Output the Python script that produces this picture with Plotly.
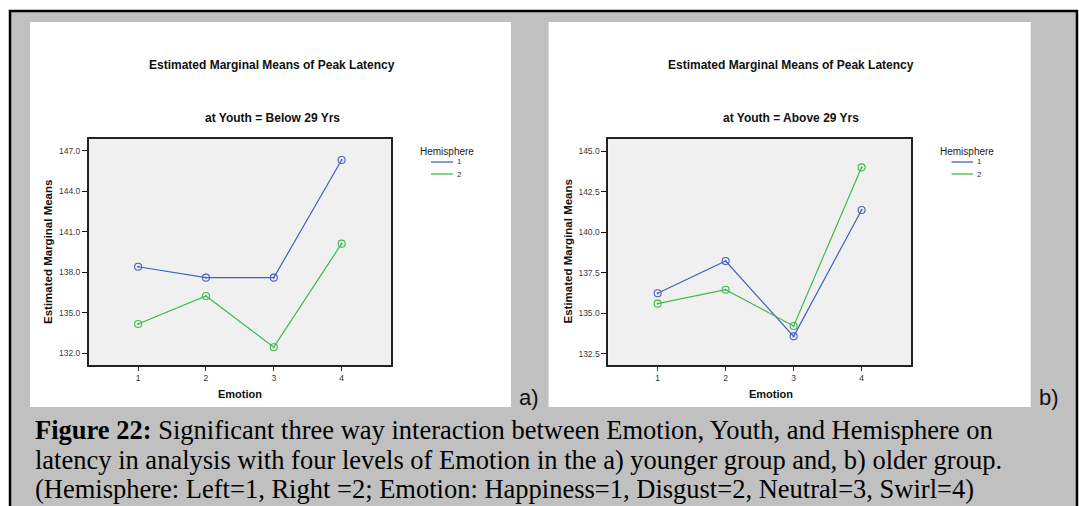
import plotly.graph_objects as go

W, H = 1079, 506

emotion = [1, 2, 3, 4]
young_h1 = [138.41, 137.60, 137.60, 146.31]
young_h2 = [134.17, 136.24, 132.45, 140.12]
old_h1 = [136.23, 138.22, 133.57, 141.37]
old_h2 = [135.59, 136.45, 134.21, 144.01]
young_yticks = [132.0, 135.0, 138.0, 141.0, 144.0, 147.0]
old_yticks = [132.5, 135.0, 137.5, 140.0, 142.5, 145.0]
hemis = ["1", "2"]
BLUE = "#4560c0"
GREEN = "#3dbb4c"


def px(x):
    return x / W


def py(y):
    return 1 - y / H


fig = go.Figure()

panels = [
    dict(xa="x", ya="y", h1=young_h1, h2=young_h2, yt=young_yticks,
         xd=(88.8, 390.8), yr=[131.13, 147.87], sub="at Youth = Below 29 Yrs",
         white=(30, 511), tc=272, ytx=48, emx=240, leg=(447, 431, 453, 455),
         lab="a)", labx=529),
    dict(xa="x2", ya="y2", h1=old_h1, h2=old_h2, yt=old_yticks,
         xd=(608.2, 910.9), yr=[131.80, 145.76], sub="at Youth = Above 29 Yrs",
         white=(548.6, 1030.7), tc=791, ytx=567.5, emx=771, leg=(967, 951.5, 973, 975),
         lab="b)", labx=1049),
]

shapes = [
    dict(type="rect", xref="paper", yref="paper", x0=px(10), x1=px(1077), y0=py(530), y1=py(11),
         fillcolor="#c0c0c0", line=dict(width=0), layer="below"),
]
annotations = []
layout_axes = {}

for i, p in enumerate(panels):
    shapes.append(dict(type="rect", xref="paper", yref="paper", x0=px(p["white"][0]), x1=px(p["white"][1]),
                       y0=py(407), y1=py(22), fillcolor="white", line=dict(width=0), layer="below"))
    shapes.append(dict(type="rect", xref="paper", yref="paper", x0=px(p["xd"][0]), x1=px(p["xd"][1]),
                       y0=py(365), y1=py(139), fillcolor="#f0f0f0", line=dict(width=0), layer="below"))
    for series, col, nm in [(p["h1"], BLUE, hemis[0]), (p["h2"], GREEN, hemis[1])]:
        fig.add_trace(go.Scatter(x=emotion, y=series, mode="lines+markers", name=nm,
                                 xaxis=p["xa"], yaxis=p["ya"], showlegend=False,
                                 line=dict(color=col, width=1.2),
                                 marker=dict(symbol="circle-open-dot", size=7, color=col,
                                             line=dict(width=1.1, color=col))))
    sfx = "" if i == 0 else "2"
    layout_axes["xaxis" + sfx] = dict(domain=[px(p["xd"][0]), px(p["xd"][1])], range=[0.273, 4.725],
                                      anchor="y" + sfx, tickvals=emotion, ticktext=[str(e) for e in emotion],
                                      ticks="outside", ticklen=4, tickcolor="#333", tickwidth=1,
                                      showline=True, linecolor="#222", linewidth=1.6, mirror=True,
                                      showgrid=False, zeroline=False,
                                      tickfont=dict(family="Liberation Sans, Arial", size=8.5, color="#333"))
    layout_axes["yaxis" + sfx] = dict(domain=[py(365), py(139)], range=p["yr"], anchor="x" + sfx,
                                      tickvals=p["yt"], ticktext=["%.1f" % v for v in p["yt"]],
                                      ticks="outside", ticklen=5, tickcolor="#111", tickwidth=1.3,
                                      showline=True, linecolor="#222", linewidth=1.6, mirror=True,
                                      showgrid=False, zeroline=False,
                                      tickfont=dict(family="Liberation Sans, Arial", size=8.5, color="#3a3a3a"))
    bold = dict(family="Liberation Sans, Arial", size=12, color="#111")
    annotations += [
        dict(text="<b>Estimated Marginal Means of Peak Latency</b>", x=px(p["tc"]), y=py(65),
             xref="paper", yref="paper", showarrow=False, font=bold, xanchor="center", yanchor="middle"),
        dict(text="<b>" + p["sub"] + "</b>", x=px(p["tc"]), y=py(118),
             xref="paper", yref="paper", showarrow=False, font=bold, xanchor="center", yanchor="middle"),
        dict(text="<b>Estimated Marginal Means</b>", x=px(p["ytx"]), y=py(252), textangle=-90,
             xref="paper", yref="paper", showarrow=False,
             font=dict(family="Liberation Sans, Arial", size=11.5, color="#111"),
             xanchor="center", yanchor="middle"),
        dict(text="<b>Emotion</b>", x=px(p["emx"]), y=py(394),
             xref="paper", yref="paper", showarrow=False,
             font=dict(family="Liberation Sans, Arial", size=11, color="#111"),
             xanchor="center", yanchor="middle"),
        dict(text="Hemisphere", x=px(p["leg"][0]), y=py(151),
             xref="paper", yref="paper", showarrow=False,
             font=dict(family="Liberation Sans, Arial", size=10, color="#222"),
             xanchor="center", yanchor="middle"),
        dict(text=p["lab"], x=px(p["labx"]), y=py(397),
             xref="paper", yref="paper", showarrow=False,
             font=dict(family="Liberation Sans, Arial", size=22, color="#111"),
             xanchor="center", yanchor="middle"),
    ]
    for j, (col, nm) in enumerate([(BLUE, hemis[0]), (GREEN, hemis[1])]):
        yy = 162 + 12 * j
        shapes.append(dict(type="line", xref="paper", yref="paper", x0=px(p["leg"][1]), x1=px(p["leg"][2]),
                           y0=py(yy), y1=py(yy), line=dict(color=col, width=1.3)))
        annotations.append(dict(text=nm, x=px(p["leg"][3]), y=py(yy), xref="paper", yref="paper",
                                showarrow=False, xanchor="left", yanchor="middle",
                                font=dict(family="Liberation Sans, Arial", size=8, color="#333")))

shapes.append(dict(type="rect", xref="paper", yref="paper", x0=px(10), x1=px(1077), y0=py(530), y1=py(11),
                   line=dict(color="black", width=2.5), fillcolor="rgba(0,0,0,0)"))

serif = dict(family="Liberation Serif, Times New Roman", size=26.5, color="black")
captions = [
    "<b>Figure 22:</b> Significant three way interaction between Emotion, Youth, and Hemisphere on",
    "latency in analysis with four levels of Emotion in the a) younger group and, b) older group.",
    "(Hemisphere: Left=1, Right =2; Emotion: Happiness=1, Disgust=2, Neutral=3, Swirl=4)",
]
for k, c in enumerate(captions):
    annotations.append(dict(text=c, x=px(33), y=py(430 + 29.5 * k), xref="paper", yref="paper",
                            showarrow=False, xanchor="left", yanchor="middle", font=serif))

fig.update_layout(width=W, height=H, margin=dict(l=0, r=0, t=0, b=0), autosize=False,
                  paper_bgcolor="white", plot_bgcolor="rgba(0,0,0,0)",
                  shapes=shapes, annotations=annotations, showlegend=False, **layout_axes)
fig.write_html("out.html", config={"displayModeBar": False},
               post_script="document.body.style.margin='0';document.body.style.overflow='hidden';")
